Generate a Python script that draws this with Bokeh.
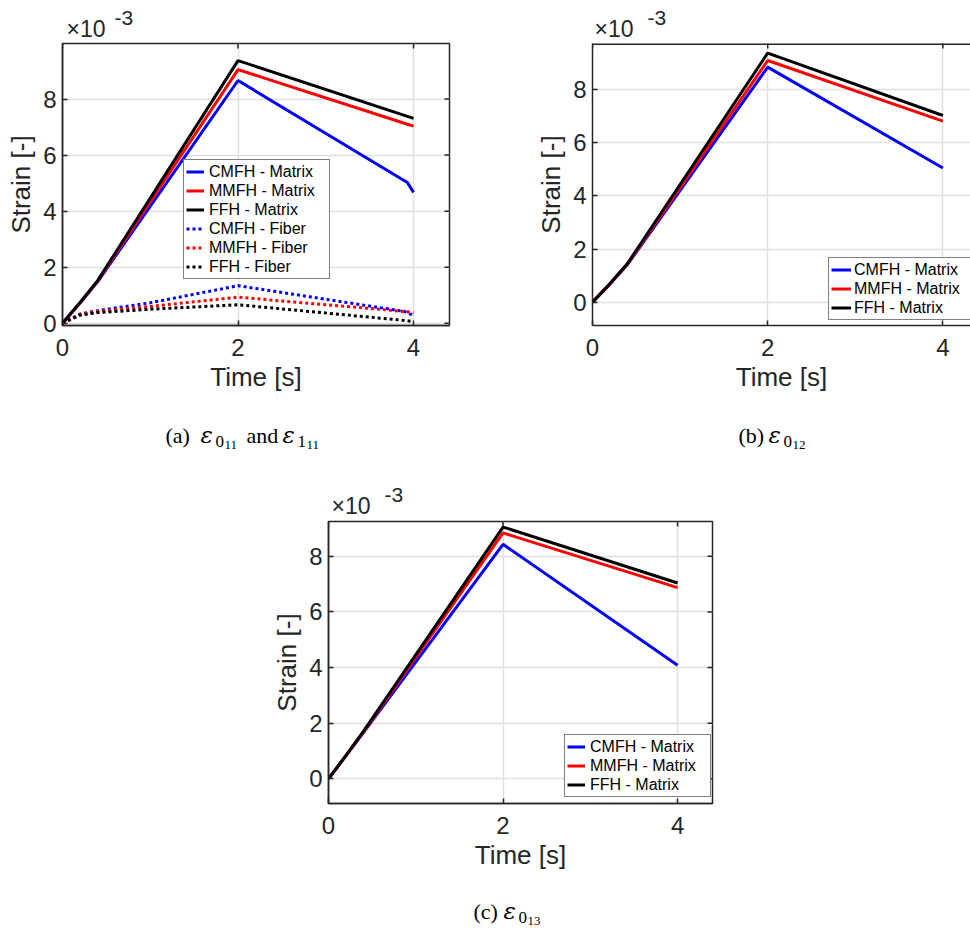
import math
from bokeh.plotting import figure
from bokeh.layouts import column, row
from bokeh.models import FixedTicker, Range1d, Span
from bokeh.core.properties import value
from bokeh.embed import file_html
from bokeh.resources import INLINE

# ---------------- data (strain values in units of 1e-3) ----------------
# panel (a): matrix and fiber strains
time_a_matrix = [0, 0.2, 0.4, 2.0, 3.93, 4.0]
cmfh_matrix_a = [0, 0.72, 1.48, 8.66, 5.02, 4.67]
mmfh_matrix_a = [0, 0.73, 1.50, 9.05, 7.10, 7.03]
ffh_matrix_a = [0, 0.74, 1.52, 9.37, 7.38, 7.31]
time_a_fiber = [0, 0.2, 0.4, 1.0, 2.0, 3.9, 4.0]
cmfh_fiber_a = [0, 0.33, 0.45, 0.73, 1.34, 0.42, 0.27]
mmfh_fiber_a = [0, 0.31, 0.42, 0.60, 0.93, 0.42, 0.37]
ffh_fiber_a = [0, 0.29, 0.38, 0.50, 0.66, 0.10, 0.06]

# panel (b)
time_b = [0, 0.2, 0.4, 2.0, 4.0]
cmfh_b = [0, 0.68, 1.42, 8.85, 5.05]
mmfh_b = [0, 0.69, 1.44, 9.10, 6.82]
ffh_b = [0, 0.70, 1.46, 9.38, 7.03]

# panel (c)
time_c = [0, 0.2, 0.4, 2.0, 4.0]
cmfh_c = [0, 0.82, 1.66, 8.43, 4.08]
mmfh_c = [0, 0.83, 1.68, 8.84, 6.87]
ffh_c = [0, 0.84, 1.70, 9.05, 7.04]

x_ticks = [0, 2, 4]
y_ticks = [0, 2, 4, 6, 8]
names = ["CMFH", "MMFH", "FFH"]
colors = ["#0000ff", "#ff0000", "#000000"]

AX = "#262626"
SANS = "Liberation Sans"
SERIF = "Liberation Serif"
GREEK = "DejaVu Serif"
LW = 3


def style_axis(ax, ticks):
    ax.ticker = FixedTicker(ticks=ticks)
    ax.axis_line_color = AX
    ax.axis_line_width = 1.5
    ax.major_tick_line_color = AX
    ax.major_tick_line_width = 1.5
    ax.major_tick_in = 5
    ax.major_tick_out = 0
    ax.minor_tick_line_color = None
    ax.major_label_text_font = SANS
    ax.major_label_text_font_size = "24px"
    ax.major_label_text_color = AX
    ax.axis_label_text_font = SANS
    ax.axis_label_text_font_size = "26px"
    ax.axis_label_text_font_style = "normal"
    ax.axis_label_text_color = AX


def make_core(width, border_left, frame_w, frame_h, xr, yr, boxed=True):
    border_right = width - border_left - frame_w
    p = figure(
        frame_width=frame_w, frame_height=frame_h,
        min_border_left=border_left, min_border_right=border_right,
        min_border_top=1, min_border_bottom=75,
        x_range=Range1d(*xr), y_range=Range1d(*yr),
        output_backend="svg", toolbar_location=None,
        background_fill_color="white", border_fill_color="white",
    )
    p.xaxis.axis_label = "Time [s]"
    p.yaxis.axis_label = "Strain [-]"
    style_axis(p.xaxis[0], x_ticks)
    style_axis(p.yaxis[0], y_ticks)
    p.xaxis.major_label_standoff = 13
    p.xaxis.axis_label_standoff = 3
    p.yaxis.major_label_standoff = 6
    p.yaxis.axis_label_standoff = 4
    p.xgrid.ticker = FixedTicker(ticks=x_ticks)
    p.ygrid.ticker = FixedTicker(ticks=y_ticks)
    p.grid.grid_line_color = "#e0e0e0"
    p.grid.grid_line_width = 1.5
    # inward tick marks on the top (and right) edges of the box
    p.scatter(x_ticks, [yr[1]] * len(x_ticks), marker="dash", size=10,
              angle=math.pi / 2, line_color=AX, line_width=1.5)
    if boxed:
        p.outline_line_color = AX
        p.outline_line_width = 1.5
        p.scatter([xr[1]] * len(y_ticks), y_ticks, marker="dash", size=10,
                  line_color=AX, line_width=1.5)
    else:
        p.outline_line_color = None
        p.add_layout(Span(location=yr[1], dimension="width",
                          line_color=AX, line_width=3))
    return p


def make_strip(width, border_left, frame_w, height):
    # text strip whose frame lines up with the plot frame below/above it;
    # x coordinates are pixels from the strip's left edge, y from its top
    s = figure(
        frame_width=frame_w, frame_height=height,
        min_border_left=border_left,
        min_border_right=width - border_left - frame_w,
        min_border_top=0, min_border_bottom=0,
        x_range=Range1d(border_left, border_left + frame_w),
        y_range=Range1d(height, 0),
        x_axis_type=None, y_axis_type=None,
        output_backend="svg", toolbar_location=None,
        background_fill_color="white", border_fill_color="white",
    )
    s.outline_line_color = None
    s.grid.visible = False
    return s


def put(s, x, y, text, size, font=SANS, style="normal", color=AX):
    # y is the wanted baseline; compensate the renderer's baseline offset
    s.text(x=[x], y=[y - 0.38 * size], text=[text], text_font=value(font),
           text_font_size=value(f"{size}px"), text_font_style=style,
           text_color=color, text_baseline="alphabetic", text_align="left")


def style_legend(p, loc, label_width, glyph_width, standoff):
    lg = p.legend[0]
    lg.location = loc
    lg.padding = 2
    lg.spacing = 0
    lg.margin = 0
    lg.glyph_height = 19
    lg.label_height = 19
    lg.glyph_width = glyph_width
    lg.label_standoff = standoff
    lg.label_width = label_width
    lg.label_text_font = SANS
    lg.label_text_font_size = "16px"
    lg.label_text_color = "#000000"
    lg.border_line_color = "#000000"
    lg.border_line_width = 1.5
    lg.background_fill_alpha = 1.0


K = "#000000"


def eps(s, x, y, sub, subsub):
    put(s, x, y, "\u03b5", 23, GREEK, "italic", K)
    put(s, x + 15, y + 4, sub, 17, SERIF, color=K)
    put(s, x + 24, y + 6, subsub, 13, SERIF, color=K)


# ---------------- panel (a) ----------------
A_W, A_L, A_FW = 460, 62, 387
ta = make_strip(A_W, A_L, A_FW, 42)
put(ta, 66, 37, "\u00d710", 23)
put(ta, 114, 25, "-3", 21)

pa = make_core(A_W, A_L, A_FW, 282, (0, 4.41), (-0.08, 9.98))
for n, c, ys in zip(names, colors, [cmfh_matrix_a, mmfh_matrix_a, ffh_matrix_a]):
    pa.line(time_a_matrix, ys, line_color=c, line_width=LW, legend_label=f"{n} - Matrix")
for n, c, ys in zip(names, colors, [cmfh_fiber_a, mmfh_fiber_a, ffh_fiber_a]):
    pa.line(time_a_fiber, ys, line_color=c, line_width=LW, line_dash="3 3",
            legend_label=f"{n} - Fiber")
style_legend(pa, (121, 46), 118, 18, 5)

ca = make_strip(A_W, A_L, A_FW, 52)
put(ca, 165, 43, "(a)", 22, SERIF, color=K)
eps(ca, 200, 43, "0", "11")
put(ca, 246, 43, "and", 22, SERIF, color=K)
eps(ca, 282, 43, "1", "11")

# ---------------- panel (b) ----------------
B_W, B_L, B_FW = 510, 132, 378
tb = make_strip(B_W, B_L, B_FW, 42)
put(tb, 134, 37, "\u00d710", 23)
put(tb, 187, 25, "-3", 21)

pb = make_core(B_W, B_L, B_FW, 282, (0, 4.315), (-0.878, 9.74), boxed=False)
for n, c, ys in zip(names, colors, [cmfh_b, mmfh_b, ffh_b]):
    pb.line(time_b, ys, line_color=c, line_width=LW, legend_label=f"{n} - Matrix")
style_legend(pb, (236, 5), 130, 20, 3)

cb = make_strip(B_W, B_L, B_FW, 52)
put(cb, 278, 43, "(b)", 22, SERIF, color=K)
eps(cb, 308, 43, "0", "12")

# ---------------- panel (c) ----------------
C_W, C_L, C_FW = 730, 328, 384
tc = make_strip(C_W, C_L, C_FW, 68)
put(tc, 331, 62, "\u00d710", 23)
put(tc, 384, 50, "-3", 21)

pc = make_core(C_W, C_L, C_FW, 282, (0, 4.40), (-0.89, 9.25))
for n, c, ys in zip(names, colors, [cmfh_c, mmfh_c, ffh_c]):
    pc.line(time_c, ys, line_color=c, line_width=LW, legend_label=f"{n} - Matrix")
style_legend(pc, (236, 6), 118, 18, 5)

cc = make_strip(C_W, C_L, C_FW, 51)
put(cc, 473, 41, "(c)", 22, SERIF, color=K)
eps(cc, 503, 41, "0", "13")

layout = column(
    row(column(ta, pa, ca), column(tb, pb, cb)),
    column(tc, pc, cc),
)
open("out.html", "w").write(file_html(layout, INLINE))
